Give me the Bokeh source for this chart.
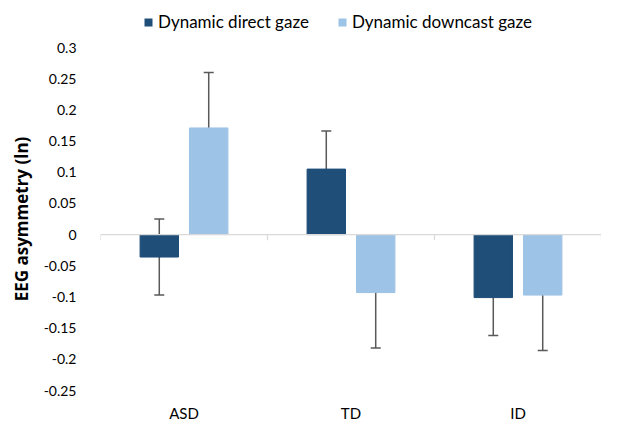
from bokeh.plotting import figure
from bokeh.models import (ColumnDataSource, Whisker, TeeHead, Span, FixedTicker,
                          Legend, LegendItem)
from bokeh.layouts import column
from bokeh.embed import file_html
from bokeh.resources import INLINE

categories = ["ASD", "TD", "ID"]
series_names = ["Dynamic direct gaze", "Dynamic downcast gaze"]
direct = [-0.036, 0.105, -0.101]
downcast = [0.171, -0.093, -0.097]
direct_err = [0.061, 0.061, 0.061]
downcast_err = [0.089, 0.089, 0.089]
y_ticks = [0.3, 0.25, 0.2, 0.15, 0.1, 0.05, 0, -0.05, -0.1, -0.15, -0.2, -0.25]

DARK = "#1F4E79"
LIGHT = "#9DC3E6"
ERR = "#595959"
FONT = "Lato"

centers = [i + 0.5 for i in range(len(categories))]
off = 0.148
bw = 0.23

# ---- legend strip (separate small figure on top) ----
lg = figure(width=601, height=34, output_backend="svg", toolbar_location=None,
            x_range=(0, 1), y_range=(0, 1), x_axis_type=None, y_axis_type=None,
            min_border=0)
lg.outline_line_color = None
lg.xgrid.visible = False
lg.ygrid.visible = False
# off-range proxy renderers, only used for the legend swatches
l1 = lg.vbar(x=[-5], top=[0], bottom=[0], width=0.1, fill_color=DARK, line_color=None)
l2 = lg.vbar(x=[-5], top=[0], bottom=[0], width=0.1, fill_color=LIGHT, line_color=None)
legend = Legend(items=[LegendItem(label=series_names[0], renderers=[l1]),
                       LegendItem(label=series_names[1], renderers=[l2])],
                location=(43, 2), orientation="horizontal",
                glyph_width=10, glyph_height=10, label_height=20,
                label_standoff=5, spacing=28, padding=0, margin=0,
                border_line_color=None, background_fill_alpha=0,
                label_text_font=FONT, label_text_font_size="17px",
                label_text_color="#000000")
lg.add_layout(legend, "center")

# ---- main chart ----
p = figure(width=601, height=390, output_backend="svg", toolbar_location=None,
           x_range=(0, 3), y_range=(-0.25, 0.3),
           min_border_left=100, min_border_right=0, min_border_top=13,
           min_border_bottom=26)
p.outline_line_color = None
p.xgrid.visible = False
p.ygrid.visible = False

src_d = ColumnDataSource(dict(x=[c - off for c in centers], top=direct,
                              lo=[v - e for v, e in zip(direct, direct_err)],
                              hi=[v + e for v, e in zip(direct, direct_err)]))
src_c = ColumnDataSource(dict(x=[c + off for c in centers], top=downcast,
                              lo=[v - e for v, e in zip(downcast, downcast_err)],
                              hi=[v + e for v, e in zip(downcast, downcast_err)]))

p.vbar(x="x", top="top", bottom=0, width=bw, source=src_d,
       fill_color=DARK, line_color=DARK)
p.vbar(x="x", top="top", bottom=0, width=bw, source=src_c,
       fill_color=LIGHT, line_color=LIGHT)

# zero line and category boundary ticks
p.add_layout(Span(location=0, dimension="width", line_color="#D9D9D9", line_width=1.2))
p.segment(x0=[0, 1, 2, 3], y0=[0] * 4, x1=[0, 1, 2, 3], y1=[-0.009] * 4,
          line_color="#D9D9D9", line_width=1.2)

for src in (src_d, src_c):
    p.add_layout(Whisker(source=src, base="x", upper="hi", lower="lo",
                         line_color=ERR, line_width=1.5,
                         upper_head=TeeHead(size=10, line_color=ERR, line_width=1.5),
                         lower_head=TeeHead(size=10, line_color=ERR, line_width=1.5)))

# axes
p.xaxis.ticker = FixedTicker(ticks=centers)
p.xaxis.major_label_overrides = {c: n for c, n in zip(centers, categories)}
p.xaxis.axis_line_color = None
p.xaxis.major_tick_line_color = None
p.xaxis.minor_tick_line_color = None
p.xaxis.major_label_standoff = 7
p.xaxis.major_label_text_font = FONT
p.xaxis.major_label_text_font_size = "15px"
p.xaxis.major_label_text_color = "#000000"

p.yaxis.ticker = FixedTicker(ticks=y_ticks)
p.yaxis.major_label_overrides = {t: ("0" if t == 0 else ("%g" % t)) for t in y_ticks}
p.yaxis.axis_line_color = None
p.yaxis.major_tick_line_color = None
p.yaxis.minor_tick_line_color = None
p.yaxis.major_label_standoff = 18
p.yaxis.major_label_text_font = FONT
p.yaxis.major_label_text_font_size = "14px"
p.yaxis.major_label_text_color = "#000000"
p.yaxis.axis_label = "EEG asymmetry (ln)"
p.yaxis.axis_label_text_font = "Open Sans"
p.yaxis.axis_label_text_font_size = "17px"
p.yaxis.axis_label_text_font_style = "bold"
p.yaxis.axis_label_text_color = "#000000"
p.yaxis.axis_label_standoff = 8

layout = column(lg, p, spacing=0)
open("out.html", "w").write(file_html(layout, INLINE))
